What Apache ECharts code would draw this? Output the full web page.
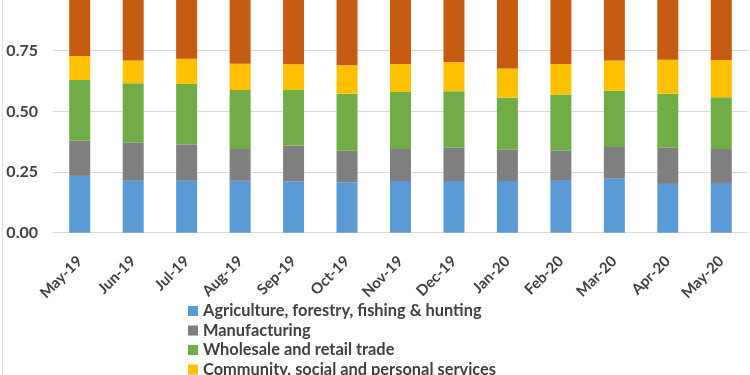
<!DOCTYPE html>
<html><head><meta charset="utf-8">
<script src="https://cdn.jsdelivr.net/npm/echarts@6/dist/echarts.min.js"></script>
<style>html,body{margin:0;padding:0;background:#fff;overflow:hidden}
#c{width:750px;height:375px;position:relative}
#edge{position:absolute;left:2px;top:0;width:1px;height:375px;background:#e0e0e0}</style>
</head><body><div id="c"></div><div id="edge"></div>
<script>
const categories = ['May-19','Jun-19','Jul-19','Aug-19','Sep-19','Oct-19','Nov-19','Dec-19','Jan-20','Feb-20','Mar-20','Apr-20','May-20'];
const agriculture = [0.234,0.214,0.214,0.214,0.212,0.208,0.213,0.213,0.213,0.217,0.224,0.201,0.205];
const manufacturing = [0.145,0.158,0.150,0.131,0.146,0.130,0.132,0.137,0.129,0.121,0.129,0.149,0.140];
const wholesale = [0.250,0.244,0.249,0.243,0.230,0.235,0.235,0.233,0.214,0.231,0.232,0.223,0.213];
const community = [0.099,0.094,0.104,0.108,0.106,0.117,0.115,0.119,0.121,0.126,0.125,0.140,0.154];
const others = [0.272,0.290,0.283,0.304,0.306,0.310,0.305,0.298,0.323,0.305,0.290,0.287,0.288];
const seriesNames = ['Agriculture, forestry, fishing & hunting','Manufacturing','Wholesale and retail trade','Community, social and personal services','Others'];
const seriesData = [agriculture, manufacturing, wholesale, community, others];
const colors = ['#5B9BD5','#7F7F7F','#70AD47','#FFC000','#C55A11'];
const yTicks = [0, 0.25, 0.5, 0.75, 1];

const chart = echarts.init(document.getElementById('c'), null, {renderer:'canvas'});
const font = 'Lato, "Open Sans", sans-serif';
chart.setOption({
  animation:false,
  color: colors,
  grid:{left:53,right:2,top:-10,bottom:142.3,outerBoundsMode:'none',containLabel:false},
  legend:{
    orient:'vertical', left:183, top:298, height:150,
    itemWidth:10, itemHeight:10, itemGap:3.5,
    icon:'rect',
    textStyle:{fontFamily:font,fontWeight:'bold',fontSize:16.4,color:'#404040',lineHeight:14},
    data: seriesNames
  },
  xAxis:{
    type:'category', data:categories,
    axisLine:{lineStyle:{color:'#d9d9d9'}},
    axisTick:{show:false},
    axisLabel:{rotate:45,margin:26,interval:0,fontFamily:font,fontWeight:'bold',fontSize:15,color:'#404040'}
  },
  yAxis:{
    type:'value', min:yTicks[0], max:yTicks[yTicks.length-1], interval:0.25,
    axisLine:{show:false}, axisTick:{show:false},
    splitLine:{lineStyle:{color:'#d9d9d9'}},
    axisLabel:{margin:15,fontFamily:font,fontWeight:'bold',fontSize:16,color:'#404040',formatter:v=>v.toFixed(2)}
  },
  series: seriesNames.map((n,i)=>({
    name:n, type:'bar', stack:'total', barWidth:21,
    data: seriesData[i]
  }))
});
</script></body></html>
